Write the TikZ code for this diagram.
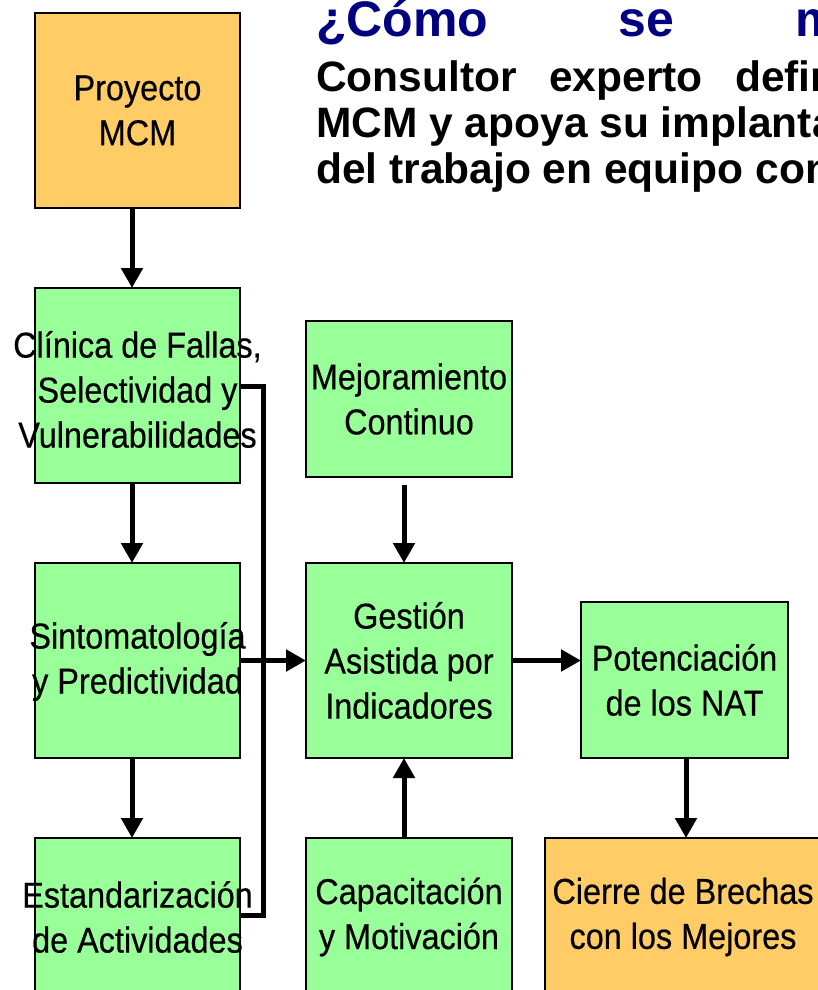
\documentclass[tikz,border=0pt]{standalone}
\usepackage{fontspec}
\setmainfont{Liberation Sans}
\newfontfamily\narrowfont[FakeStretch=0.9,FakeBold=0.4]{Liberation Sans}
\usetikzlibrary{arrows.meta}
\definecolor{boxgreen}{RGB}{153,255,153}
\definecolor{boxorange}{RGB}{255,204,102}
\definecolor{titleblue}{RGB}{0,0,128}
\begin{document}
\begin{tikzpicture}[x=1pt,y=-1pt,
  box/.style={draw=black, line width=1.5pt, inner sep=0pt, outer sep=0pt},
  gbox/.style={box, fill=boxgreen},
  obox/.style={box, fill=boxorange},
  lbl/.style={inner sep=0pt, align=center, font=\narrowfont\fontsize{36}{45}\selectfont},
  conn/.style={line width=5pt},
  arr/.style={conn, -{Triangle[width=21pt,length=20pt]}},
  ttl/.style={anchor=base west, inner sep=0pt, font=\bfseries\fontsize{50}{50}\selectfont, text=titleblue},
  sub/.style={anchor=base west, inner sep=0pt, font=\bfseries\fontsize{42.5}{46}\selectfont}]
\useasboundingbox (0,0) rectangle (818,990);
\clip (0,0) rectangle (818,990);
\fill[white] (0,0) rectangle (818,990);

% title
\node[ttl] (t1) at (316,37) {¿Cómo};
\node[ttl] (t2) at (618,37) {se};
\node[ttl] (t3) at (795,37) {m};
\node[sub] (s1) at (316,92) {Consultor};
\node[sub] (s2) at (549,92) {experto};
\node[sub] (s3) at (735,92) {defin};
\node[sub] (s4) at (316,137) {MCM y apoya su implanta};
\node[sub] (s5) at (316,183) {del trabajo en equipo con};

% boxes
\node[obox, minimum width=205pt, minimum height=195pt] (proj) at (137.5,110.5) {};
\node[gbox, minimum width=205pt, minimum height=195pt] (clin) at (137.5,385.5) {};
\node[gbox, minimum width=205pt, minimum height=195pt] (sinto) at (137.5,660.5) {};
\node[gbox, minimum width=205pt, minimum height=158pt] (estand) at (137.5,917) {};
\node[gbox, minimum width=206pt, minimum height=156pt] (mejor) at (409,399) {};
\node[gbox, minimum width=206pt, minimum height=195pt] (gest) at (409,660.5) {};
\node[gbox, minimum width=206pt, minimum height=158pt] (capac) at (409,917) {};
\node[gbox, minimum width=207pt, minimum height=156pt] (poten) at (684.5,680) {};
\node[obox, minimum width=276pt, minimum height=158pt] (cierre) at (683,917) {};

% connectors
\coordinate (x132) at (132,0);
\coordinate (x404) at (404,0);
\coordinate (x686) at (686,0);
\coordinate (b1) at (263,386);
\coordinate (b2) at (263,915);
\draw[arr] (proj.south -| x132) -- (clin.north -| x132);
\draw[arr] (clin.south -| x132) -- (sinto.north -| x132);
\draw[arr] (sinto.south -| x132) -- (estand.north -| x132);
\draw[conn, line join=miter] (clin.east |- b1) -- (b1) -- (b2) -- (estand.east |- b2);
\draw[arr] (sinto.east) -- (gest.west);
\draw[arr] ([yshift=-8pt]mejor.south -| x404) -- (gest.north -| x404);
\draw[arr] (capac.north -| x404) -- (gest.south -| x404);
\draw[arr] (gest.east) -- (poten.west |- gest.east);
\draw[arr] (poten.south -| x686) -- (cierre.north -| x686);

% labels
\node[lbl] (projT) at (proj) {Proyecto\\MCM};
\node[lbl] (clinT) at ([yshift=-4pt]clin.center) {Clínica de Fallas,\\Selectividad y\\Vulnerabilidades};
\node[lbl] (sintoT) at ([yshift=-1pt]sinto.center) {Sintomatología\\y Predictividad};
\node[lbl] (estandT) at (estand) {Estandarización\\de Actividades};
\node[lbl] (mejorT) at (mejor) {Mejoramiento\\Continuo};
\node[lbl] (gestT) at (gest) {Gestión\\Asistida por\\Indicadores};
\node[lbl] (capacT) at (capac) {Capacitación\\y Motivación};
\node[lbl] (potenT) at (poten) {Potenciación\\de los NAT};
\node[lbl] (cierreT) at (cierre) {Cierre de Brechas\\con los Mejores};
\end{tikzpicture}
\end{document}
